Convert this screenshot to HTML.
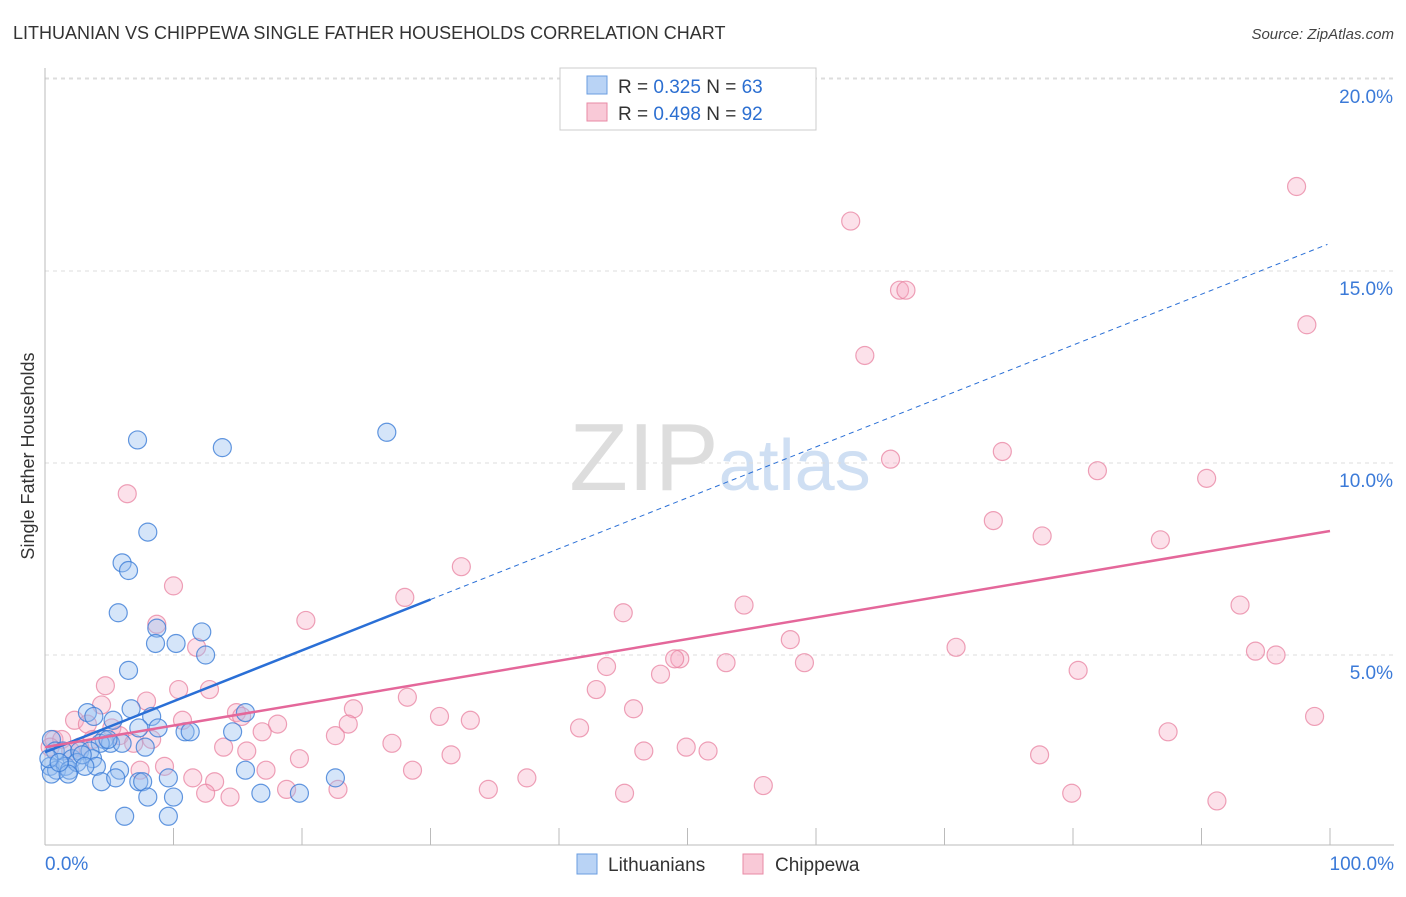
<!DOCTYPE html>
<html><head><meta charset="utf-8"><style>
body{margin:0;background:#fff;font-family:"Liberation Sans",sans-serif}
svg text{font-family:"Liberation Sans",sans-serif}
</style></head><body>
<svg id="chart" width="1406" height="892" viewBox="0 0 1406 892" xmlns="http://www.w3.org/2000/svg">
<text x="13" y="39" font-size="18" fill="#333">LITHUANIAN VS CHIPPEWA SINGLE FATHER HOUSEHOLDS CORRELATION CHART</text>
<text x="1394" y="39" font-size="15" fill="#444" text-anchor="end" font-style="italic">Source: ZipAtlas.com</text>
<text x="720" y="490" font-size="96" text-anchor="middle" fill="#ddd" font-family="Liberation Serif">ZIP<tspan fill="#cfdff3" font-family="Liberation Sans" font-size="72">atlas</tspan></text>
<g id="grid"></g>
<g id="axes"></g>
<g id="pts"></g>
<g id="trends"></g>
<text transform="translate(34,456) rotate(-90)" font-size="18" fill="#333" text-anchor="middle">Single Father Households</text>
<g>
<rect x="560" y="68" width="256" height="62" fill="#fff" stroke="#ccc"/>
<rect x="587" y="76" width="20" height="18" fill="#b9d3f5" stroke="#6a9de0"/>
<text x="618" y="93" font-size="19" fill="#333">R = <tspan fill="#2c6fd1">0.325</tspan>   N = <tspan fill="#2c6fd1">63</tspan></text>
<rect x="587" y="103" width="20" height="18" fill="#f9c9d7" stroke="#e88aa6"/>
<text x="618" y="120" font-size="19" fill="#333">R = <tspan fill="#2c6fd1">0.498</tspan>   N = <tspan fill="#2c6fd1">92</tspan></text>
</g>
<g>
<rect x="577" y="854" width="20" height="20" fill="#b9d3f5" stroke="#6a9de0"/>
<text x="608" y="871" font-size="19" fill="#333">Lithuanians</text>
<rect x="743" y="854" width="20" height="20" fill="#f9c9d7" stroke="#e88aa6"/>
<text x="775" y="871" font-size="19" fill="#333">Chippewa</text>
</g>
</svg>
<script>
const yTicks=[5,10,15,20];
const yTickLabels=["5.0%","10.0%","15.0%","20.0%"];
const xTickVals=[0,10,20,30,40,50,60,70,80,90,100];
const blueX=[7.2,13.8,26.6,8.0,6.0,6.5,5.7,8.7,8.6,10.2,12.2,12.5,6.5,3.3,3.8,5.3,6.7,8.3,8.8,7.3,10.9,11.3,14.6,15.6,4.6,5.1,4.3,7.8,0.5,0.8,1.4,2.1,2.7,3.5,3.7,0.4,0.9,1.6,1.9,2.5,4.0,0.5,1.8,5.8,7.3,9.6,15.6,22.6,4.4,5.5,7.6,8.0,10.0,16.8,19.8,6.2,9.6,0.3,1.1,2.9,3.1,6.0,4.9];
const blueY=[10.6,10.4,10.8,8.2,7.4,7.2,6.1,5.7,5.3,5.3,5.6,5.0,4.6,3.5,3.4,3.3,3.6,3.4,3.1,3.1,3.0,3.0,3.0,3.5,2.8,2.7,2.7,2.6,2.8,2.5,2.5,2.3,2.5,2.5,2.3,2.1,2.0,2.1,2.0,2.2,2.1,1.9,1.9,2.0,1.7,1.8,2.0,1.8,1.7,1.8,1.7,1.3,1.3,1.4,1.4,0.8,0.8,2.3,2.2,2.4,2.1,2.7,2.8];
const pinkX=[97.4,62.7,66.5,67.0,98.2,63.8,65.8,74.5,81.9,90.4,6.4,73.8,77.6,86.8,32.4,10.0,28.0,54.4,93.0,20.3,45.0,8.7,11.8,58.0,70.9,94.2,95.8,49.4,49.0,53.0,59.1,43.7,47.9,80.4,4.7,10.4,12.8,42.9,28.2,7.9,4.4,45.8,24.0,14.9,15.3,30.7,2.3,10.7,33.1,98.8,18.1,23.6,16.9,41.6,5.2,3.3,5.8,22.6,87.4,0.7,1.3,3.7,8.3,6.9,27.0,2.7,13.9,15.7,46.6,49.9,51.6,31.6,77.4,19.8,9.3,17.2,28.6,7.4,11.5,13.2,37.5,12.5,14.4,18.8,22.8,34.5,45.1,55.9,79.9,91.2,0.4,2.0];
const pinkY=[17.2,16.3,14.5,14.5,13.6,12.8,10.1,10.3,9.8,9.6,9.2,8.5,8.1,8.0,7.3,6.8,6.5,6.3,6.3,5.9,6.1,5.8,5.2,5.4,5.2,5.1,5.0,4.9,4.9,4.8,4.8,4.7,4.5,4.6,4.2,4.1,4.1,4.1,3.9,3.8,3.7,3.6,3.6,3.5,3.4,3.4,3.3,3.3,3.3,3.4,3.2,3.2,3.0,3.1,3.1,3.2,2.9,2.9,3.0,2.8,2.8,2.8,2.8,2.7,2.7,2.6,2.6,2.5,2.5,2.6,2.5,2.4,2.4,2.3,2.1,2.0,2.0,2.0,1.8,1.7,1.8,1.4,1.3,1.5,1.5,1.5,1.4,1.6,1.4,1.2,2.6,2.5];
const blueTrend=[2.47,0.1325], pinkTrend=[2.6,0.0563];
const X=v=>45+v*12.85, Y=v=>847-v*38.4;
const NS="http://www.w3.org/2000/svg";
function mk(tag,attrs,parent){const e=document.createElementNS(NS,tag);for(const k in attrs)e.setAttribute(k,attrs[k]);parent.appendChild(e);return e;}
const grid=document.getElementById('grid'),axes=document.getElementById('axes'),pts=document.getElementById('pts'),tr=document.getElementById('trends');
yTicks.forEach((t,i)=>{
 const l=mk('line',{x1:45,x2:1394,y1:Y(t),y2:Y(t),stroke:'#ddd','stroke-dasharray':'4,4'},grid);
 
 
 const tx=mk('text',{x:1393,y:Y(t)+24,'font-size':19,fill:'#3b7ad8','text-anchor':'end'},axes);
 tx.textContent=yTickLabels[i];
 
 
});
mk('line',{x1:45,x2:1394,y1:Y(20)-1,y2:Y(20)-1,stroke:'#ddd','stroke-dasharray':'4,4'},grid);
mk('line',{x1:45,x2:45,y1:68,y2:845,stroke:'#bbb'},axes);
mk('line',{x1:45,x2:1394,y1:845,y2:845,stroke:'#bbb'},axes);
xTickVals.forEach(v=>{const t=mk('line',{x1:X(v),x2:X(v),y1:828,y2:845,stroke:'#bbb'},axes);
 
 });
const x0=mk('text',{x:45,y:870,'font-size':19,fill:'#3b7ad8'},axes);x0.textContent='0.0%';


const x1=mk('text',{x:1394,y:870,'font-size':19,fill:'#3b7ad8','text-anchor':'end'},axes);x1.textContent='100.0%';


pinkX.forEach((x,i)=>{const c=mk('circle',{cx:X(x),cy:Y(pinkY[i]),r:9,fill:'rgba(246,170,195,0.35)',stroke:'rgba(232,130,160,0.75)','stroke-width':1.2},pts);
 
 });
blueX.forEach((x,i)=>{const c=mk('circle',{cx:X(x),cy:Y(blueY[i]),r:9,fill:'rgba(150,190,240,0.4)',stroke:'rgba(60,125,215,0.8)','stroke-width':1.2},pts);
 
 });
const f=(t,x)=>t[0]+t[1]*x;
let l=mk('line',{x1:X(0),y1:Y(f(blueTrend,0)),x2:X(30),y2:Y(f(blueTrend,30)),stroke:'#2a6fd6','stroke-width':2.5},tr);


l=mk('line',{x1:X(30),y1:Y(f(blueTrend,30)),x2:X(99.8),y2:Y(f(blueTrend,99.8)),stroke:'#2a6fd6','stroke-width':1,'stroke-dasharray':'5,4'},tr);


l=mk('line',{x1:X(0),y1:Y(f(pinkTrend,0)),x2:X(100),y2:Y(f(pinkTrend,100)),stroke:'#e4679a','stroke-width':2.5},tr);


</script>
</body></html>
